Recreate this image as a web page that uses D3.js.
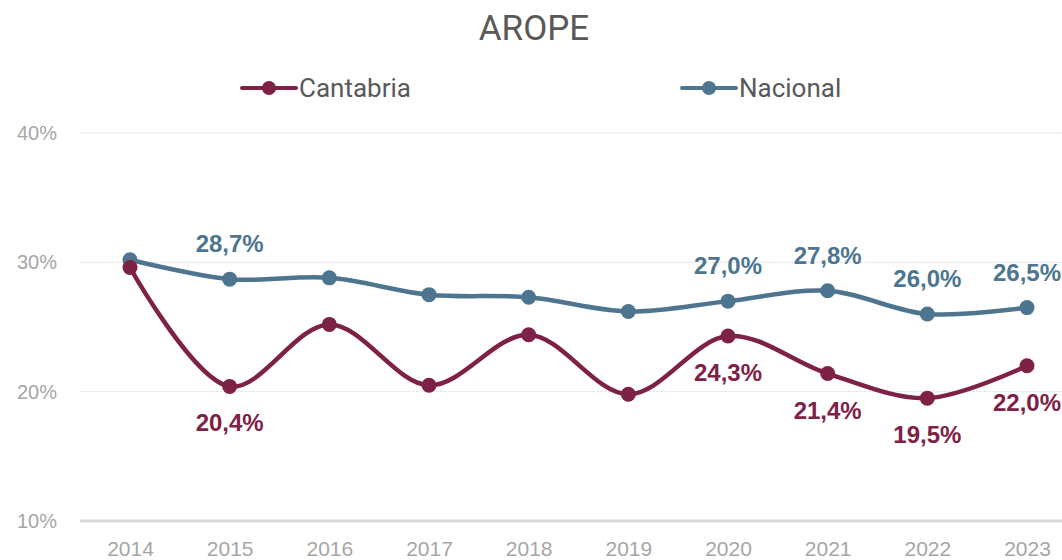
<!DOCTYPE html>
<html>
<head>
<meta charset="utf-8">
<script src="https://cdn.jsdelivr.net/npm/d3@7"></script>
<style>
  body { margin: 0; background: #fff; overflow: hidden; }
  svg { display: block; }
</style>
</head>
<body>
<script>
var width = 1062
var height = 560

// data
var years = ["2014", "2015", "2016", "2017", "2018", "2019", "2020", "2021", "2022", "2023"];
var cantabria = [29.6, 20.4, 25.2, 20.5, 24.4, 19.8, 24.3, 21.4, 19.5, 22.0];
var nacional = [30.2, 28.7, 28.8, 27.5, 27.3, 26.2, 27.0, 27.8, 26.0, 26.5];
// years that carry a data label
var labelled = ["2015", "2020", "2021", "2022", "2023"];
var yTicks = [10, 20, 30, 40];

var colCant = "#7e2146";
var colNac = "#4e758f";

var svg = d3.select("body").append("svg")
    .attr("width", width)
    .attr("height", height)

var x = d3.scalePoint()
    .domain(years)
    .range([130, 1027])

var y = d3.scaleLinear()
    .domain([10, 40])
    .range([521, 133])

// gridlines
svg.append("g")
  .selectAll("line")
  .data(yTicks.filter(function(d) { return d > 10; }))
  .enter().append("line")
    .attr("x1", 80)
    .attr("x2", width)
    .attr("y1", function(d) { return y(d); })
    .attr("y2", function(d) { return y(d); })
    .attr("stroke", "#e3e3e3")
    .attr("stroke-width", 1)
    .attr("stroke-dasharray", "3,1")

// bottom axis line
svg.append("line")
    .attr("x1", 80)
    .attr("x2", width)
    .attr("y1", y(10))
    .attr("y2", y(10))
    .attr("stroke", "#d9d9d9")
    .attr("stroke-width", 3)

// y axis labels
var yAxis = d3.axisLeft(y)
    .tickValues(yTicks)
    .tickSize(0)
    .tickPadding(0)
    .tickFormat(function(d) { return d + "%"; })

var gy = svg.append("g")
    .attr("transform", "translate(57,0)")
    .call(yAxis)
gy.select(".domain").remove()
gy.selectAll("text")
    .attr("fill", "#a6a6a6")
    .style("font-family", "Liberation Sans, Arial, sans-serif")
    .style("font-size", "20px")

// x axis labels
var xAxis = d3.axisBottom(x)
    .tickSize(0)
    .tickPadding(0)

var gx = svg.append("g")
    .attr("transform", "translate(0,541)")
    .call(xAxis)
gx.select(".domain").remove()
gx.selectAll("text")
    .attr("fill", "#a6a6a6")
    .style("font-family", "Liberation Sans Narrow, Liberation Sans, Arial, sans-serif")
    .style("font-size", "21px")

// title
svg.append("text")
    .attr("x", 534)
    .attr("y", 40)
    .attr("text-anchor", "middle")
    .attr("fill", "#595959")
    .style("font-family", "Roboto, 'Open Sans', sans-serif")
    .style("font-size", "35px")
    .text("AROPE")

// legend
var legend = [
  {name: "Cantabria", color: colCant, x: 242},
  {name: "Nacional", color: colNac, x: 682}
];
var lg = svg.append("g").selectAll("g")
  .data(legend)
  .enter().append("g")
    .attr("transform", function(d) { return "translate(" + d.x + ",88)"; })
lg.append("line")
    .attr("x1", 0).attr("x2", 54)
    .attr("stroke", function(d) { return d.color; })
    .attr("stroke-width", 4)
    .attr("stroke-linecap", "round")
lg.append("circle")
    .attr("cx", 27).attr("r", 7)
    .attr("fill", function(d) { return d.color; })
lg.append("text")
    .attr("x", 57)
    .attr("y", 9)
    .attr("fill", "#595959")
    .style("font-family", "Roboto, 'Open Sans', sans-serif")
    .style("font-size", "26px")
    .text(function(d) { return d.name; })

// lines
var line = d3.line()
    .x(function(d, i) { return x(years[i]); })
    .y(function(d) { return y(d); })
    .curve(d3.curveCatmullRom.alpha(0.5))

var series = [
  {values: nacional, color: colNac, dy: -27},
  {values: cantabria, color: colCant, dy: 45}
];

series.forEach(function(s) {
  svg.append("path")
      .datum(s.values)
      .attr("fill", "none")
      .attr("stroke", s.color)
      .attr("stroke-width", 4.5)
      .attr("d", line)
})

series.forEach(function(s) {
  svg.append("g").selectAll("circle")
    .data(s.values)
    .enter().append("circle")
      .attr("cx", function(d, i) { return x(years[i]); })
      .attr("cy", function(d) { return y(d); })
      .attr("r", 7.5)
      .attr("fill", s.color)
})

// data labels
var fmt = function(d) { return d.toFixed(1).replace(".", ",") + "%"; };
series.forEach(function(s) {
  svg.append("g").selectAll("text")
    .data(s.values.map(function(v, i) { return {v: v, year: years[i]}; })
      .filter(function(d) { return labelled.indexOf(d.year) >= 0; }))
    .enter().append("text")
      .attr("x", function(d) { return x(d.year); })
      .attr("y", function(d) { return y(d.v) + s.dy; })
      .attr("text-anchor", "middle")
      .attr("fill", s.color)
      .style("font-family", "'Liberation Sans', Arial, sans-serif")
      .style("font-weight", "bold")
      .style("font-size", "24px")
      .text(function(d) { return fmt(d.v); })
})
</script>
</body>
</html>
